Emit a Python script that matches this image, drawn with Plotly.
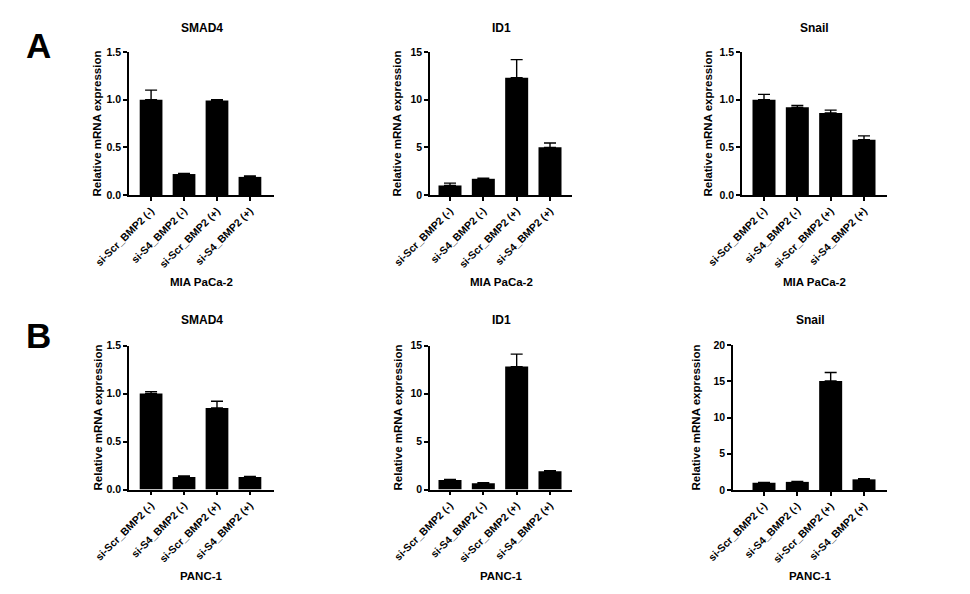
import plotly.graph_objects as go

categories = ["si-Scr_BMP2 (-)", "si-S4_BMP2 (-)", "si-Scr_BMP2 (+)", "si-S4_BMP2 (+)"]

a_smad4 = [1.00, 0.22, 0.99, 0.19]
a_smad4_err = [0.10, 0.005, 0.01, 0.01]
a_id1 = [1.0, 1.7, 12.3, 5.0]
a_id1_err = [0.25, 0.05, 1.9, 0.45]
a_snail = [1.00, 0.92, 0.86, 0.58]
a_snail_err = [0.055, 0.02, 0.03, 0.04]

b_smad4 = [1.00, 0.13, 0.85, 0.13]
b_smad4_err = [0.02, 0.01, 0.07, 0.005]
b_id1 = [1.0, 0.65, 12.8, 1.9]
b_id1_err = [0.05, 0.07, 1.3, 0.07]
b_snail = [1.0, 1.12, 15.05, 1.47]
b_snail_err = [0.03, 0.05, 1.15, 0.08]

titles = ["SMAD4", "ID1", "Snail", "SMAD4", "ID1", "Snail"]
cell_lines = ["MIA PaCa-2", "PANC-1"]
ytitle = "Relative mRNA expression"

W, H = 970, 594
OFF = 8  # page body margin: figure is drawn 8px right and down
FONT = "Liberation Sans, Arial, sans-serif"


def px_x(s):
    return (s - OFF) / W


def px_y(s):
    return 1 - (s - OFF) / H


panels = [
    # values, err, screen x (l,r), screen y (top,bottom), yrange, dtick, fmt, xrange
    (a_smad4, a_smad4_err, (129, 274), (52, 195), [0, 1.5], 0.5, ".1f", [-0.67, 3.73]),
    (a_id1, a_id1_err, (430, 572), (52, 195), [0, 15], 5, "d", [-0.6, 3.66]),
    (a_snail, a_snail_err, (742, 887), (52, 195), [0, 1.5], 0.5, ".1f", [-0.66, 3.69]),
    (b_smad4, b_smad4_err, (129, 274), (345.5, 489.5), [0, 1.5], 0.5, ".1f", [-0.67, 3.73]),
    (b_id1, b_id1_err, (430, 572), (345.5, 489.5), [0, 15], 5, "d", [-0.6, 3.66]),
    (b_snail, b_snail_err, (733, 887), (345, 490), [0, 20], 5, "d", [-0.93, 3.69]),
]

ylabel_x = [97, 397, 708, 97, 397, 695]
title_y = [28, 28, 28, 320, 320, 320]
bottom_y = [282, 282, 282, 576, 576, 576]

fig = go.Figure()
layout = dict(
    width=W, height=H, margin=dict(l=0, r=0, t=0, b=0),
    paper_bgcolor="white", plot_bgcolor="white", showlegend=False,
    bargap=0.31, font=dict(family=FONT, color="black"),
)
annotations = []

for i, (vals, err, (xl, xr), (yt, yb), yr, dt, fmt, xrng) in enumerate(panels):
    n = i + 1
    xa = "x" if n == 1 else f"x{n}"
    ya = "y" if n == 1 else f"y{n}"
    fig.add_trace(go.Bar(
        x=categories, y=vals, xaxis=xa, yaxis=ya,
        marker=dict(color="black", line=dict(color="black", width=0)),
        error_y=dict(type="data", array=err, arrayminus=[0] * len(err), symmetric=False,
                     color="black", thickness=1.4, width=6),
    ))
    layout["xaxis" if n == 1 else f"xaxis{n}"] = dict(
        domain=[px_x(xl), px_x(xr)], anchor=ya, range=xrng,
        showline=True, linecolor="black", linewidth=1.5,
        ticks="outside", ticklen=4, tickwidth=1.5, tickcolor="black",
        tickangle=-45, tickfont=dict(size=10.5, family=FONT, color="black", weight="bold"),
        showgrid=False, zeroline=False, fixedrange=True, automargin=False,
    )
    layout["yaxis" if n == 1 else f"yaxis{n}"] = dict(
        domain=[px_y(yb), px_y(yt)], anchor=xa, range=yr,
        tickmode="linear", tick0=0, dtick=dt, tickformat=fmt,
        showline=True, linecolor="black", linewidth=1.5,
        ticks="outside", ticklen=4, tickwidth=1.5, tickcolor="black",
        tickfont=dict(size=10.5, family=FONT, color="black", weight="bold"),
        showgrid=False, zeroline=False, fixedrange=True, automargin=False,
    )
    cx = px_x((xl + xr) / 2)
    annotations.append(dict(
        text=titles[i], x=cx, y=px_y(title_y[i]), xref="paper", yref="paper",
        showarrow=False, xanchor="center", yanchor="middle",
        font=dict(size=12, family=FONT, color="black", weight="bold"),
    ))
    annotations.append(dict(
        text=ytitle, x=px_x(ylabel_x[i]), y=px_y((yt + yb) / 2), xref="paper", yref="paper",
        showarrow=False, textangle=-90, xanchor="center", yanchor="middle",
        font=dict(size=11.5, family=FONT, color="black", weight="bold"),
    ))
    annotations.append(dict(
        text=cell_lines[0 if i < 3 else 1], x=cx, y=px_y(bottom_y[i]),
        xref="paper", yref="paper", showarrow=False, xanchor="center", yanchor="middle",
        font=dict(size=11.5, family=FONT, color="black", weight="bold"),
    ))

for letter, ly in [("A", 45), ("B", 335)]:
    annotations.append(dict(
        text=letter, x=px_x(38), y=px_y(ly), xref="paper", yref="paper",
        showarrow=False, xanchor="center", yanchor="middle",
        font=dict(size=35, family=FONT, color="black", weight="bold"),
    ))

layout["annotations"] = annotations
fig.update_layout(**layout)
fig.write_html("out.html")
